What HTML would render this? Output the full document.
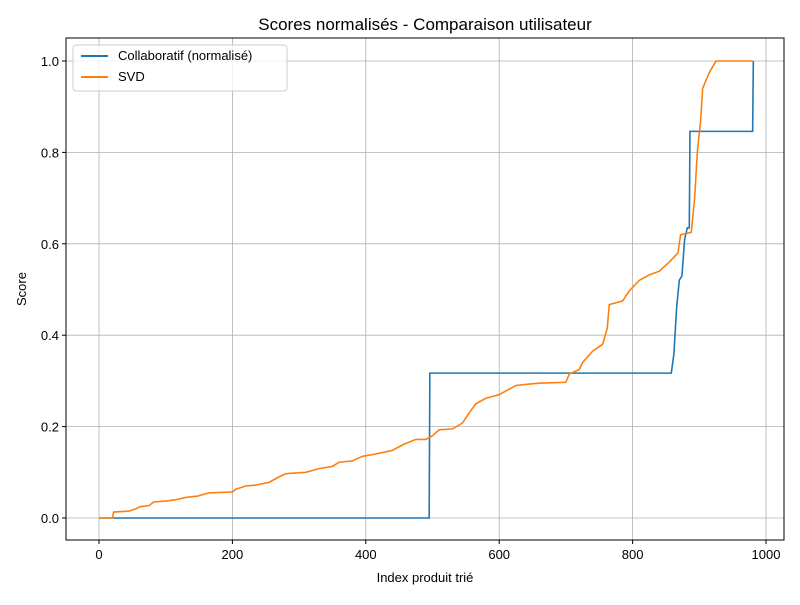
<!DOCTYPE html>
<html><head><meta charset="utf-8"><style>
body{margin:0;background:#fff;font-family:"Liberation Sans","DejaVu Sans",sans-serif}
svg text{font-family:"Liberation Sans","DejaVu Sans",sans-serif;font-size:13px;fill:#000}
</style></head><body>
<svg width="800" height="600">
<rect width="800" height="600" fill="#fff"/>
<text x="425" y="30" text-anchor="middle" style="font-size:17px">Scores normalisés - Comparaison utilisateur</text>
<g id="grid"></g>
<g id="lines"></g>
<rect x="66" y="38" width="718" height="502" fill="none" stroke="#000" stroke-width="1"/>
<g id="ticks"></g>
<text x="425" y="582" text-anchor="middle">Index produit trié</text>
<text transform="translate(26,289) rotate(-90)" text-anchor="middle">Score</text>
<g>
<rect x="73" y="45" width="214" height="46" rx="3" fill="#fff" fill-opacity="0.8" stroke="#ccc"/>
<line x1="81" y1="56" x2="108" y2="56" stroke="#1f77b4" stroke-width="2"/>
<text x="118" y="60">Collaboratif (normalisé)</text>
<line x1="81" y1="77" x2="108" y2="77" stroke="#ff7f0e" stroke-width="2"/>
<text x="118" y="81">SVD</text>
</g>
</svg>
<script>
const xTicks=[0,200,400,600,800,1000];
const yTicks=[0,0.2,0.4,0.6,0.8,1.0];
const yTickLabels=["0.0","0.2","0.4","0.6","0.8","1.0"];
const collabX=[0,495,496,858,862,866,870,874,878,882,885,886,980,981];
const collabY=[0,0,0.317,0.317,0.36,0.46,0.52,0.53,0.61,0.635,0.635,0.846,0.846,1.0];
const svdX=[0,20,22,45,55,62,75,82,100,115,130,148,165,200,205,220,235,255,270,280,310,330,350,360,380,395,415,440,455,475,490,500,510,530,545,555,565,580,600,625,645,660,700,705,720,725,740,755,762,765,785,795,810,825,840,855,868,872,888,893,897,902,905,915,925,980];
const svdY=[0,0,0.013,0.015,0.02,0.025,0.027,0.035,0.037,0.04,0.045,0.048,0.055,0.057,0.063,0.07,0.072,0.078,0.09,0.097,0.1,0.108,0.113,0.122,0.125,0.135,0.14,0.148,0.16,0.172,0.172,0.18,0.193,0.195,0.208,0.23,0.25,0.262,0.27,0.29,0.293,0.295,0.297,0.315,0.325,0.34,0.365,0.38,0.415,0.467,0.475,0.497,0.52,0.532,0.54,0.56,0.58,0.62,0.625,0.7,0.8,0.87,0.94,0.975,1.0,1.0];
const sx=v=>99+v*0.667, sy=v=>518-v*457;
const NS="http://www.w3.org/2000/svg";
const grid=document.getElementById('grid'),ticks=document.getElementById('ticks'),lines=document.getElementById('lines');
function mk(tag,attrs,parent){const e=document.createElementNS(NS,tag);for(const k in attrs)e.setAttribute(k,attrs[k]);parent.appendChild(e);return e;}
xTicks.forEach(t=>{const x=sx(t);
 const g=mk('line',{x1:x,x2:x,y1:38,y2:540,stroke:'#b0b0b0','stroke-width':0.8},grid);
 
 
 mk('line',{x1:x,x2:x,y1:540,y2:544,stroke:'#000'},ticks);
 const tx=mk('text',{x:x,y:559,'text-anchor':'middle'},ticks);tx.textContent=t;
 
 
});
yTicks.forEach((t,i)=>{const y=sy(t);
 const g=mk('line',{x1:66,x2:784,y1:y,y2:y,stroke:'#b0b0b0','stroke-width':0.8},grid);
 
 
 mk('line',{x1:62,x2:66,y1:y,y2:y,stroke:'#000'},ticks);
 const tx=mk('text',{x:59,y:y+5,'text-anchor':'end'},ticks);tx.textContent=yTickLabels[i];
 
 
});
function draw(xs,ys,color,name){
 const p=mk('polyline',{points:xs.map((x,i)=>sx(x)+','+sy(ys[i])).join(' '),fill:'none',stroke:color,'stroke-width':1.6},lines);
 
 
}
draw(collabX,collabY,'#1f77b4','collaboratif-line');
draw(svdX,svdY,'#ff7f0e','svd-line');
</script>
</body></html>
